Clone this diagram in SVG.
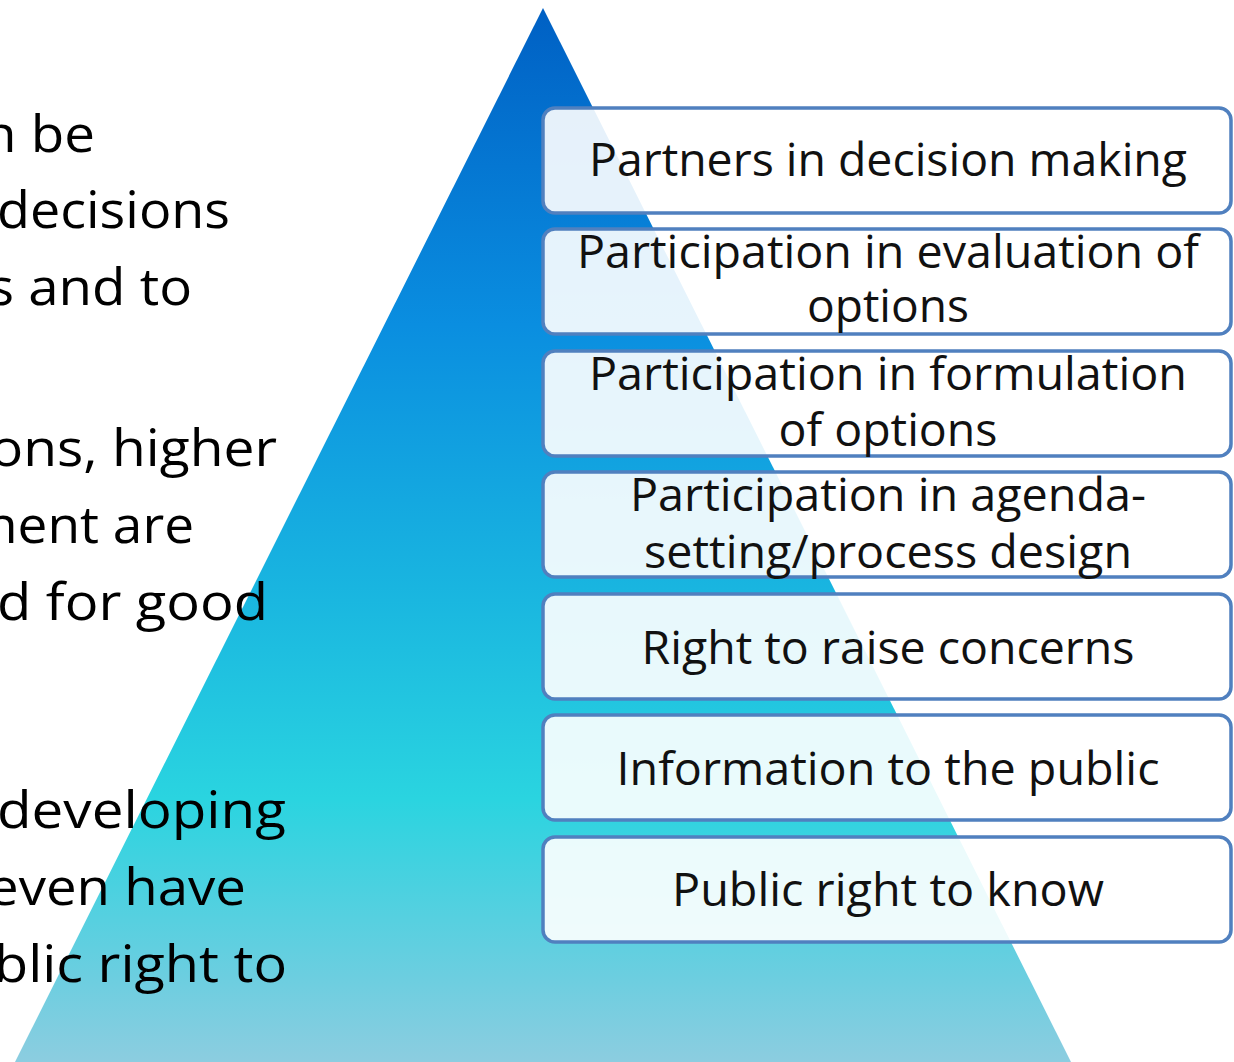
<svg xmlns="http://www.w3.org/2000/svg" width="1234" height="1062" viewBox="0 0 1234 1062">
  <defs>
    <linearGradient id="pyramidFill" x1="0" y1="0" x2="0" y2="1">
      <stop offset="0" stop-color="#0060c4"/>
      <stop offset="0.3" stop-color="#0a8ee0"/>
      <stop offset="0.55" stop-color="#19b5e0"/>
      <stop offset="0.75" stop-color="#2ad4e0"/>
      <stop offset="0.92" stop-color="#6ccee0"/>
      <stop offset="1" stop-color="#8ccde0"/>
    </linearGradient>
    <style>
      .side { font-family: "Open Sans", "Liberation Sans", sans-serif; font-size: 52px; fill: #000; text-anchor: end; }
      .box rect { fill: #ffffff; fill-opacity: 0.9; stroke: #5080bf; stroke-width: 3.5; }
      .box text { font-family: "Open Sans", "Liberation Sans", sans-serif; font-size: 46px; fill: #111; text-anchor: middle; }
    </style>
  </defs>

  <rect width="1234" height="1062" fill="#ffffff"/>

  <!-- pyramid -->
  <polygon id="pyramid" points="543,8 1071,1062 15,1062" fill="url(#pyramidFill)"/>

  <!-- side commentary, running off the left edge -->
  <g id="side-text">
    <text class="side" x="95" y="152" textLength="112" lengthAdjust="spacingAndGlyphs">n be</text>
    <text class="side" x="230" y="228" textLength="233" lengthAdjust="spacingAndGlyphs">decisions</text>
    <text class="side" x="192" y="305" textLength="204" lengthAdjust="spacingAndGlyphs">s and to</text>
    <text class="side" x="277" y="466" textLength="287" lengthAdjust="spacingAndGlyphs">ons, higher</text>
    <text class="side" x="194" y="543" textLength="209" lengthAdjust="spacingAndGlyphs">nent are</text>
    <text class="side" x="268" y="620" textLength="271" lengthAdjust="spacingAndGlyphs">d for good</text>
    <text class="side" x="286" y="828" textLength="289" lengthAdjust="spacingAndGlyphs">developing</text>
    <text class="side" x="246" y="905" textLength="258" lengthAdjust="spacingAndGlyphs">even have</text>
    <text class="side" x="287" y="982" textLength="293" lengthAdjust="spacingAndGlyphs">blic right to</text>
  </g>

  <!-- levels, top to bottom -->
  <g id="level-7" class="box">
    <rect x="543" y="108" width="688" height="105" rx="12"/>
    <text x="888" y="176" textLength="598" lengthAdjust="spacingAndGlyphs">Partners in decision making</text>
  </g>
  <g id="level-6" class="box">
    <rect x="543" y="229" width="688" height="105" rx="12"/>
    <text x="888" y="268" textLength="622" lengthAdjust="spacingAndGlyphs">Participation in evaluation of</text>
    <text x="888" y="322" textLength="162" lengthAdjust="spacingAndGlyphs">options</text>
  </g>
  <g id="level-5" class="box">
    <rect x="543" y="351" width="688" height="105" rx="12"/>
    <text x="888" y="390" textLength="598" lengthAdjust="spacingAndGlyphs">Participation in formulation</text>
    <text x="888" y="446" textLength="219" lengthAdjust="spacingAndGlyphs">of options</text>
  </g>
  <g id="level-4" class="box">
    <rect x="543" y="472" width="688" height="105" rx="12"/>
    <text x="888" y="511" textLength="516" lengthAdjust="spacingAndGlyphs">Participation in agenda-</text>
    <text x="888" y="568" textLength="488" lengthAdjust="spacingAndGlyphs">setting/process design</text>
  </g>
  <g id="level-3" class="box">
    <rect x="543" y="594" width="688" height="105" rx="12"/>
    <text x="888" y="664" textLength="493" lengthAdjust="spacingAndGlyphs">Right to raise concerns</text>
  </g>
  <g id="level-2" class="box">
    <rect x="543" y="715" width="688" height="105" rx="12"/>
    <text x="888" y="785" textLength="543" lengthAdjust="spacingAndGlyphs">Information to the public</text>
  </g>
  <g id="level-1" class="box">
    <rect x="543" y="837" width="688" height="105" rx="12"/>
    <text x="888" y="906" textLength="432" lengthAdjust="spacingAndGlyphs">Public right to know</text>
  </g>

  <g id="connectors"/>
</svg>
